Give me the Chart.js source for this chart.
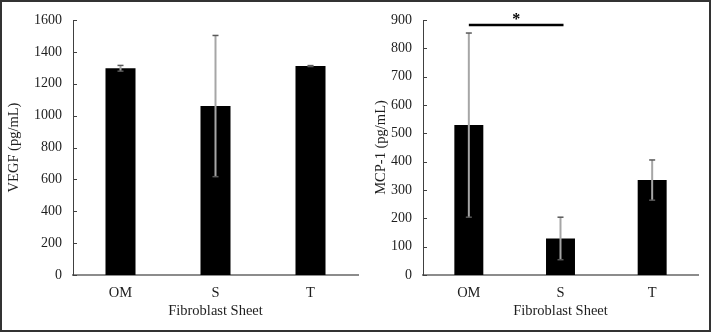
<!DOCTYPE html>
<html>
<head>
<meta charset="utf-8">
<script src="https://cdn.jsdelivr.net/npm/chart.js@4/dist/chart.umd.min.js"></script>
<style>
  html, body { margin: 0; padding: 0; background: #fff; }
  #wrap { position: relative; width: 711px; height: 332px; overflow: hidden; background: #fff; }
  #c1 { position: absolute; left: 0; top: 0; }
  #c2 { position: absolute; left: 355px; top: 0; }
  #frame { position: absolute; left: 0; top: 0; width: 711px; height: 332px; box-sizing: border-box;
           border: 2px solid #333; pointer-events: none; }
</style>
</head>
<body>
<div id="wrap">
  <canvas id="c1" width="360" height="332"></canvas>
  <canvas id="c2" width="356" height="332"></canvas>
  <div id="frame"></div>
</div>
<script>
// ---- data ----
const categories = ['OM', 'S', 'T'];
const vegfMean = [1297, 1060, 1311];
const vegfErr = [18, 443, 3];
const mcpMean = [529, 129, 335];
const mcpErr = [325, 75, 71];
const vegfTicks = [0, 200, 400, 600, 800, 1000, 1200, 1400, 1600];
const mcpTicks = [0, 100, 200, 300, 400, 500, 600, 700, 800, 900];
const sigPair = ['OM', 'S'];
const sigLevel = 882;
const sigMark = '*';
const xTitle = 'Fibroblast Sheet';

const FONT = 'Liberation Serif, "Times New Roman", serif';
const TEXT = '#1e1e1e';

const decorPlugin = {
  id: 'decor',
  afterDatasetsDraw(chart) {
    const ctx = chart.ctx;
    const xs = chart.scales.x, ys = chart.scales.y;
    const opt = chart.options.plugins.decor;
    ctx.save();
    // inner tick marks on y axis
    ctx.strokeStyle = '#404040';
    ctx.lineWidth = 1;
    ys.ticks.forEach(t => {
      const y = Math.round(ys.getPixelForValue(t.value)) + 0.5;
      ctx.beginPath();
      ctx.moveTo(chart.chartArea.left, y);
      ctx.lineTo(chart.chartArea.left + 4, y);
      ctx.stroke();
    });
    // error bars
    const meta = chart.getDatasetMeta(0);
    const ds = chart.data.datasets[0];
    ds.data.forEach((v, i) => {
      const e = opt.errors[i];
      const x = meta.data[i].x;
      const yTop = ys.getPixelForValue(v + e);
      const yBot = ys.getPixelForValue(v - e);
      ctx.strokeStyle = '#a6a6a6';
      ctx.lineWidth = 2;
      ctx.beginPath();
      ctx.moveTo(x, yTop);
      ctx.lineTo(x, yBot);
      ctx.stroke();
      ctx.strokeStyle = '#595959';
      ctx.lineWidth = 1.5;
      [yTop, yBot].forEach(yy => {
        ctx.beginPath();
        ctx.moveTo(x - 3, yy);
        ctx.lineTo(x + 3, yy);
        ctx.stroke();
      });
    });
    // significance bar
    if (opt.sig) {
      const x0 = xs.getPixelForValue(categories.indexOf(opt.sig.pair[0]));
      const x1 = xs.getPixelForValue(categories.indexOf(opt.sig.pair[1])) + 3;
      const y = ys.getPixelForValue(opt.sig.level);
      ctx.strokeStyle = '#000';
      ctx.lineWidth = 2.5;
      ctx.beginPath();
      ctx.moveTo(x0, y);
      ctx.lineTo(x1, y);
      ctx.stroke();
      ctx.fillStyle = '#000';
      ctx.font = 'bold 16px ' + FONT;
      ctx.textAlign = 'center';
      ctx.textBaseline = 'middle';
      ctx.fillText(opt.sig.mark, (x0 + x1) / 2, y - 5);
    }
    ctx.restore();
  }
};

function makeChart(id, values, errors, ticks, yTitle, yWidth, padRight, titlePad, sig) {
  return new Chart(document.getElementById(id), {
    type: 'bar',
    data: {
      labels: categories,
      datasets: [{ data: values, backgroundColor: '#000', borderWidth: 0,
                   barPercentage: 1, categoryPercentage: 0.316 }]
    },
    options: {
      responsive: false,
      animation: false,
      devicePixelRatio: 1,
      layout: { padding: { left: 0, right: padRight, top: 20, bottom: 0 } },
      plugins: {
        legend: { display: false },
        tooltip: { enabled: false },
        decor: { errors: errors, sig: sig }
      },
      scales: {
        x: {
          grid: { display: false, drawTicks: false },
          border: { color: '#8c8c8c', width: 2 },
          ticks: { color: TEXT, font: { family: FONT, size: 14.5 }, padding: 9 },
          title: { display: true, text: xTitle, color: TEXT,
                   font: { family: FONT, size: 14.5 }, padding: { top: 0, bottom: 12 } },
          afterFit(s) { s.height = 57; }
        },
        y: {
          min: ticks[0], max: ticks[ticks.length - 1],
          afterBuildTicks(s) { s.ticks = ticks.map(v => ({ value: v })); },
          grid: { display: false, drawTicks: false },
          border: { color: '#404040', width: 1 },
          ticks: { color: TEXT, font: { family: FONT, size: 14 }, padding: 11,
                   callback: v => String(v) },
          title: { display: true, text: yTitle, color: TEXT,
                   font: { family: FONT, size: 14.5 }, padding: titlePad },
          afterFit(s) { s.width = yWidth; }
        }
      }
    },
    plugins: [decorPlugin]
  });
}

makeChart('c1', vegfMean, vegfErr, vegfTicks, 'VEGF (pg/mL)', 73, 2, { top: 5, bottom: 0 }, null);
makeChart('c2', mcpMean, mcpErr, mcpTicks, 'MCP-1 (pg/mL)', 68, 13, { top: 17, bottom: 0 },
          { pair: sigPair, level: sigLevel, mark: sigMark });
</script>
</body>
</html>
